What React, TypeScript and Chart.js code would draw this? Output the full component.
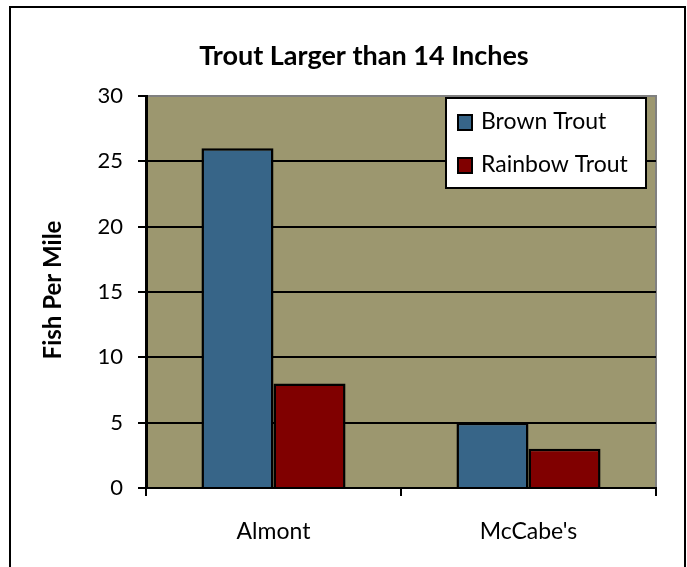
import React, { useEffect, useRef } from "react";
import { Chart, registerables } from "chart.js";

Chart.register(...registerables);

const categories = ["Almont", "McCabe's"];
const seriesNames = ["Brown Trout", "Rainbow Trout"];
const brownTrout = [26, 5];
const rainbowTrout = [8, 3];
const seriesColors = ["#376588", "#800000"];
const chartTitle = "Trout Larger than 14 Inches";
const yAxisTitle = "Fish Per Mile";
const yMin = 0;
const yMax = 30;
const yStep = 5;

const FONT = "Lato, 'Liberation Sans', sans-serif";

const decorPlugin = {
  id: "decor",
  beforeDraw(chart: any) {
    const { ctx, chartArea: a, width, height } = chart;
    ctx.save();
    ctx.fillStyle = "#ffffff";
    ctx.fillRect(0, 0, width, height);
    ctx.fillStyle = "#9C976F";
    ctx.fillRect(a.left, a.top, a.right - a.left, a.bottom - a.top);
    ctx.strokeStyle = "#808080";
    ctx.lineWidth = 2;
    ctx.strokeRect(a.left, a.top, a.right - a.left, a.bottom - a.top);
    ctx.restore();
  },
  afterDraw(chart: any) {
    const { ctx } = chart;
    ctx.save();
    // title
    ctx.fillStyle = "#000";
    ctx.font = `bold 27px ${FONT}`;
    ctx.textAlign = "center";
    ctx.textBaseline = "middle";
    ctx.fillText(chartTitle, 364, 56);
    // y-axis title
    ctx.save();
    ctx.translate(53, 290);
    ctx.rotate(-Math.PI / 2);
    ctx.font = `bold 24px ${FONT}`;
    ctx.fillText(yAxisTitle, 0, 0);
    ctx.restore();
    // legend
    const lx = 446, ly = 98, lw = 200, lh = 90;
    ctx.fillStyle = "#fff";
    ctx.fillRect(lx, ly, lw, lh);
    ctx.strokeStyle = "#000";
    ctx.lineWidth = 2;
    ctx.strokeRect(lx, ly, lw, lh);
    ctx.font = `23px ${FONT}`;
    ctx.textAlign = "left";
    ctx.textBaseline = "middle";
    chart.data.datasets.forEach((ds: any, i: number) => {
      const cy = ly + 24 + i * 43;
      ctx.fillStyle = ds.backgroundColor;
      ctx.fillRect(lx + 12, cy - 7, 14, 15);
      ctx.strokeStyle = "#000";
      ctx.lineWidth = 2;
      ctx.strokeRect(lx + 12, cy - 7, 14, 15);
      ctx.fillStyle = "#000";
      ctx.fillText(ds.label, lx + 35, cy);
    });
    // outer border
    ctx.strokeStyle = "#000";
    ctx.lineWidth = 2;
    ctx.strokeRect(10, 7, 675, 570);
    ctx.restore();
  },
};

export default function App() {
  const ref = useRef<HTMLCanvasElement | null>(null);
  useEffect(() => {
    if (!ref.current) return;
    const chart = new Chart(ref.current, {
      type: "bar",
      data: {
        labels: categories,
        datasets: [
          {
            label: seriesNames[0],
            data: brownTrout,
            backgroundColor: seriesColors[0],
            borderColor: "#000",
            borderWidth: 2.5,
          },
          {
            label: seriesNames[1],
            data: rainbowTrout,
            backgroundColor: seriesColors[1],
            borderColor: "#000",
            borderWidth: 2.5,
          },
        ],
      },
      options: {
        responsive: false,
        animation: false,
        layout: { padding: { left: 10, right: 31, top: 96, bottom: 0 } },
        plugins: {
          legend: { display: false },
          title: { display: false },
          tooltip: { enabled: false },
        },
        datasets: {
          bar: { categoryPercentage: 0.565, barPercentage: 1 },
        },
        scales: {
          x: {
            offset: true,
            grid: {
              display: true,
              offset: true,
              drawOnChartArea: false,
              drawTicks: true,
              tickLength: 8,
              color: "#000",
              lineWidth: 2,
            },
            border: { display: true, color: "#000", width: 2 },
            ticks: {
              color: "#000",
              font: { family: FONT, size: 23 },
              padding: 22,
            },
            afterFit: (s: any) => {
              s.height = 79;
            },
          },
          y: {
            min: yMin,
            max: yMax,
            ticks: {
              stepSize: yStep,
              color: "#000",
              font: { family: FONT, size: 22 },
              padding: 15,
            },
            grid: {
              color: (c: any) => (c.tick && c.tick.value === yMax ? "#808080" : "#000"),
              tickColor: "#000",
              lineWidth: 2,
              tickLength: 8,
            },
            border: { display: true, color: "#000", width: 3 },
            afterFit: (s: any) => {
              s.width = 136;
            },
          },
        },
      },
      plugins: [decorPlugin],
    });
    return () => chart.destroy();
  }, []);
  return (
    <div style={{ position: "fixed", left: 0, top: 0, width: 687, height: 567 }}>
      <canvas ref={ref} width={687} height={567} style={{ display: "block" }} />
    </div>
  );
}
